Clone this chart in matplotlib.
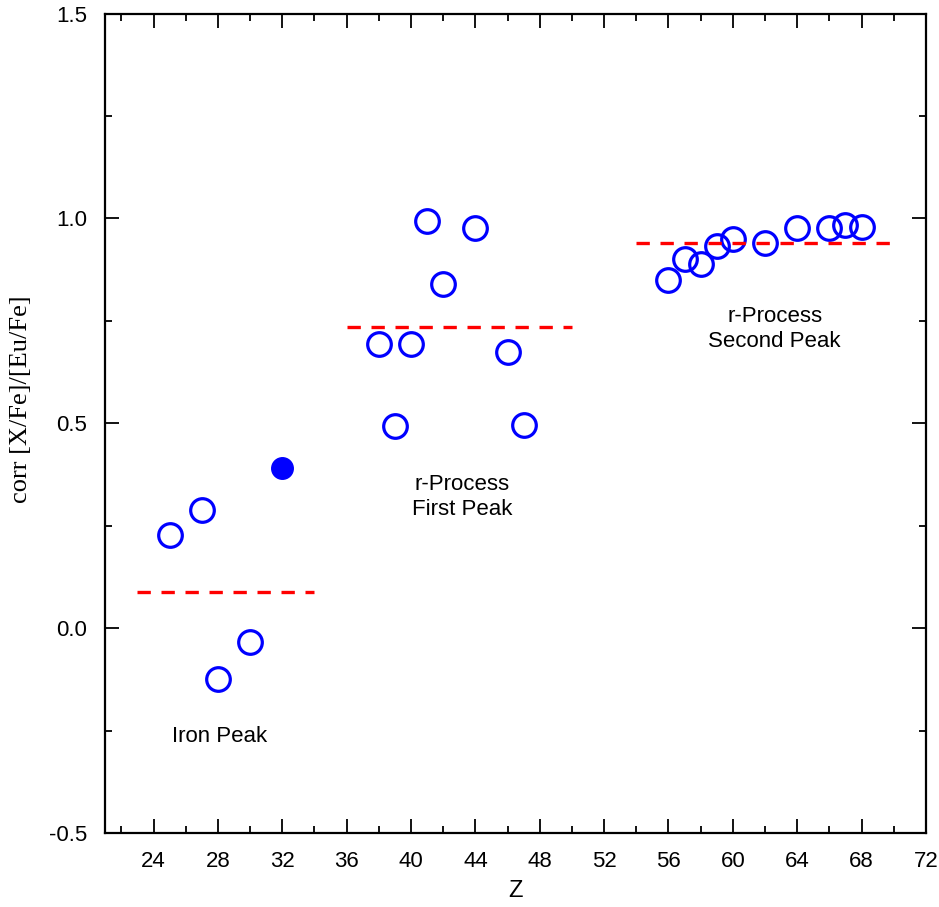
import matplotlib
matplotlib.use("Agg")
import matplotlib.pyplot as plt
from matplotlib.ticker import MultipleLocator

# Data
z_open = [25, 27, 28, 30,
          38, 39, 40, 41, 42, 44, 46, 47,
          56, 57, 58, 59, 60, 62, 64, 66, 67, 68]
corr_open = [0.227, 0.288, -0.124, -0.034,
             0.693, 0.493, 0.693, 0.995, 0.839, 0.976, 0.673, 0.495,
             0.851, 0.900, 0.890, 0.932, 0.951, 0.941, 0.976, 0.976, 0.983, 0.978]
z_filled = [32]
corr_filled = [0.39]

# Group mean lines: (z_start, z_end, level)
group_z = [(23, 34), (36, 50), (54, 70)]
group_level = [0.088, 0.734, 0.941]

labels = ["Iron Peak", "r-Process\nFirst Peak", "r-Process\nSecond Peak"]
label_pos = [(28.1, -0.265), (43.2, 0.32), (62.6, 0.73)]

plt.rcParams['font.family'] = ['Liberation Sans', 'DejaVu Sans']
plt.rcParams['axes.unicode_minus'] = False

fig = plt.figure(figsize=(9.39, 9.07), dpi=100)
ax = fig.add_axes([0.1121, 0.0815, 0.874, 0.9035])

ax.plot(z_open, corr_open, linestyle='none', marker='o', markersize=17,
        markerfacecolor='none', markeredgecolor='#0000ff', markeredgewidth=2.3)
ax.plot(z_filled, corr_filled, linestyle='none', marker='o', markersize=15.5,
        markerfacecolor='#0000ff', markeredgecolor='#0000ff')

for (z0, z1), lev in zip(group_z, group_level):
    ax.plot([z0, z1], [lev, lev], color='#ff0000', linewidth=2.4,
            dashes=(4, 3.2))

for txt, (x, y) in zip(labels, label_pos):
    ax.text(x, y, txt, ha='center', va='center', fontsize=16,
            linespacing=1.25)

ax.set_xlim(21, 72)
ax.set_ylim(-0.5, 1.5)
ax.xaxis.set_major_locator(MultipleLocator(4))
ax.xaxis.set_minor_locator(MultipleLocator(2))
ax.yaxis.set_major_locator(MultipleLocator(0.5))
ax.yaxis.set_minor_locator(MultipleLocator(0.25))
ax.set_xticks(range(24, 73, 4))

ax.tick_params(which='both', direction='in', top=True, right=True,
               labelsize=16, width=1.3)
ax.tick_params(which='major', length=10, pad=13)
ax.tick_params(which='minor', length=5)
for s in ax.spines.values():
    s.set_linewidth(1.6)

ax.set_xlabel("Z", fontsize=17, labelpad=6)
ax.set_ylabel("corr [X/Fe]/[Eu/Fe]", fontsize=19, family='Liberation Serif')
ax.yaxis.set_label_coords(-0.089, 0.53)

fig.savefig("out.png", dpi=100)
